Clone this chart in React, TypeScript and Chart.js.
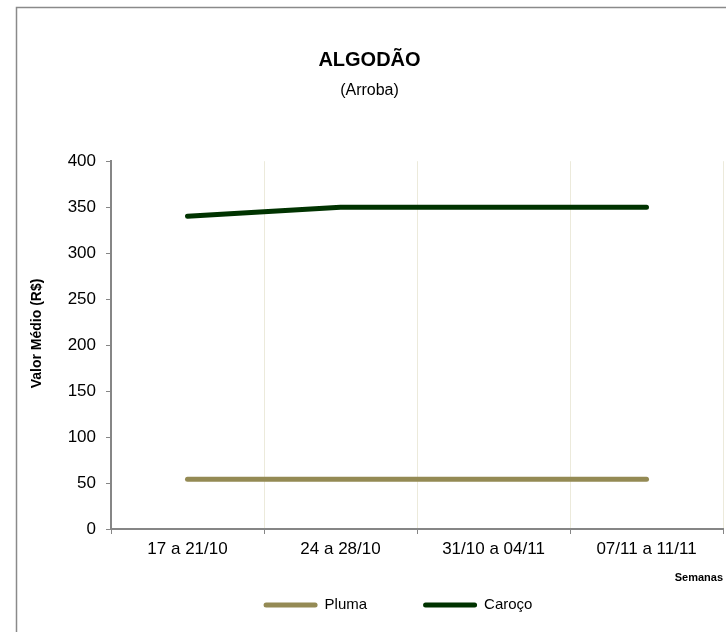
import React, { useEffect, useRef } from "react";
import { Chart, registerables } from "chart.js";

Chart.register(...registerables);

const CATEGORIES = ["17 a 21/10", "24 a 28/10", "31/10 a 04/11", "07/11 a 11/11"];
const PLUMA = [54, 54, 54, 54];
const CAROCO = [340, 350, 350, 350];
const SERIES_NAMES = ["Pluma", "Caroço"];
const SERIES_COLORS = ["#948A54", "#003300"];
const Y_MIN = 0;
const Y_MAX = 400;
const Y_STEP = 50;
const TITLE = "ALGODÃO";
const SUBTITLE = "(Arroba)";
const Y_TITLE = "Valor Médio (R$)";
const X_TITLE = "Semanas";

const FONT = "'Liberation Sans', Arial, Helvetica, sans-serif";
const AXIS_COLOR = "#868686";
const GRID_COLOR = "#ECEADB";

const framePlugin = {
  id: "frame",
  beforeDraw(chart: any) {
    const ctx = chart.ctx;
    ctx.save();
    ctx.fillStyle = "#ffffff";
    ctx.fillRect(0, 0, chart.width, chart.height);
    ctx.strokeStyle = "#8a8a8a";
    ctx.lineWidth = 1.5;
    ctx.strokeRect(16.5, 7.5, chart.width + 20, chart.height + 20);
    ctx.restore();
  },
};

const legendPlugin = {
  id: "bottomLegend",
  afterDraw(chart: any) {
    const ctx = chart.ctx;
    ctx.save();
    ctx.font = `15px ${FONT}`;
    const lineLen = 54;
    const gap = 7;
    const itemGap = 56;
    const items = chart.data.datasets.map((ds: any) => ({
      label: ds.label,
      color: ds.borderColor,
      w: ctx.measureText(ds.label).width,
    }));
    let total = 0;
    items.forEach((it: any, i: number) => {
      total += lineLen + gap + it.w + (i > 0 ? itemGap : 0);
    });
    const centerX = 398;
    const y = 605;
    let x = centerX - total / 2;
    items.forEach((it: any) => {
      ctx.strokeStyle = it.color;
      ctx.lineWidth = 5;
      ctx.lineCap = "round";
      ctx.beginPath();
      ctx.moveTo(x + 2.5, y);
      ctx.lineTo(x + lineLen - 2.5, y);
      ctx.stroke();
      ctx.fillStyle = "#000";
      ctx.textBaseline = "middle";
      ctx.textAlign = "left";
      ctx.fillText(it.label, x + lineLen + gap, y);
      x += lineLen + gap + it.w + itemGap;
    });
    ctx.restore();
  },
};

export default function App() {
  const ref = useRef<HTMLCanvasElement>(null);

  useEffect(() => {
    if (!ref.current) return;
    const chart = new Chart(ref.current, {
      type: "line",
      data: {
        labels: CATEGORIES,
        datasets: [
          {
            label: SERIES_NAMES[0],
            data: PLUMA,
            borderColor: SERIES_COLORS[0],
            backgroundColor: SERIES_COLORS[0],
            borderWidth: 5,
            borderCapStyle: "round",
            borderJoinStyle: "round",
            pointRadius: 0,
            tension: 0,
          },
          {
            label: SERIES_NAMES[1],
            data: CAROCO,
            borderColor: SERIES_COLORS[1],
            backgroundColor: SERIES_COLORS[1],
            borderWidth: 5,
            borderCapStyle: "round",
            borderJoinStyle: "round",
            pointRadius: 0,
            tension: 0,
          },
        ],
      },
      options: {
        responsive: false,
        animation: false,
        events: [],
        layout: { padding: { left: 16, right: 3, top: 0, bottom: 43 } },
        plugins: {
          legend: { display: false },
          tooltip: { enabled: false },
          title: {
            display: true,
            text: TITLE,
            color: "#000",
            font: { family: FONT, size: 20, weight: "bold" },
            padding: { top: 48, bottom: 0 },
          },
          subtitle: {
            display: true,
            text: SUBTITLE,
            color: "#000",
            font: { family: FONT, size: 16 },
            padding: { top: 9, bottom: 61 },
          },
        },
        scales: {
          x: {
            type: "category",
            offset: true,
            afterFit: (s: any) => {
              s.height = 60;
            },
            grid: {
              offset: true,
              display: true,
              drawOnChartArea: true,
              color: GRID_COLOR,
              lineWidth: 1,
              drawTicks: true,
              tickLength: 5,
              tickColor: AXIS_COLOR,
              tickWidth: 1,
            },
            border: { display: true, color: AXIS_COLOR, width: 2 },
            ticks: {
              color: "#000",
              font: { family: FONT, size: 17 },
              padding: 5,
              maxRotation: 0,
              autoSkip: false,
            },
            title: {
              display: true,
              text: X_TITLE,
              align: "end",
              color: "#000",
              font: { family: FONT, size: 11, weight: "bold" },
              padding: { top: 0, bottom: 4.4 },
            },
          },
          y: {
            min: Y_MIN,
            max: Y_MAX,
            afterFit: (s: any) => {
              s.width = 95;
            },
            grid: {
              display: true,
              drawOnChartArea: false,
              drawTicks: true,
              tickLength: 5,
              tickColor: AXIS_COLOR,
              tickWidth: 1,
            },
            border: { display: true, color: AXIS_COLOR, width: 2 },
            ticks: {
              stepSize: Y_STEP,
              color: "#000",
              font: { family: FONT, size: 17 },
              padding: 10,
            },
            title: {
              display: true,
              text: "      " + Y_TITLE,
              color: "#000",
              font: { family: FONT, size: 14, weight: "bold" },
              padding: { top: 12.6, bottom: 0 },
            },
          },
        },
      },
      plugins: [framePlugin, legendPlugin],
    });
    return () => chart.destroy();
  }, []);

  return (
    <div style={{ position: "fixed", left: 0, top: 0, width: 726, height: 632, background: "#fff" }}>
      <canvas ref={ref} width={726} height={632} style={{ display: "block", width: 726, height: 632 }} />
    </div>
  );
}
